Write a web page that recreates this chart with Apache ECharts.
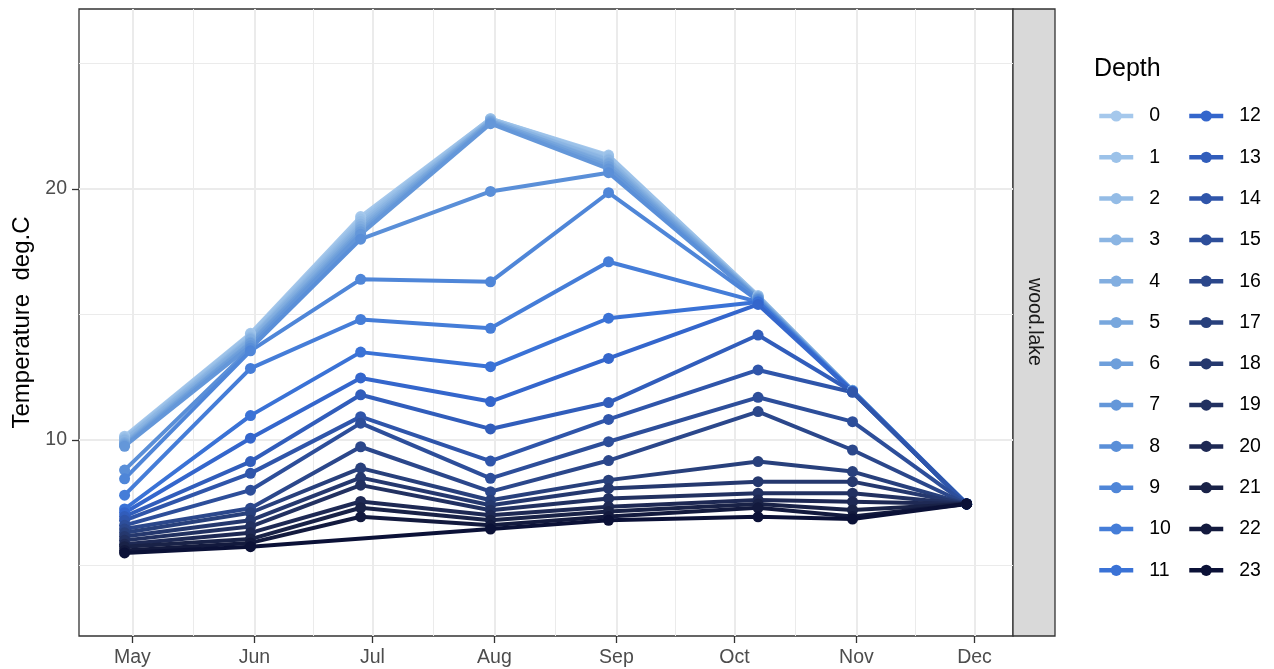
<!DOCTYPE html>
<html>
<head>
<meta charset="utf-8">
<title>wood.lake temperature profile</title>
<script src="https://cdn.jsdelivr.net/npm/echarts@6/dist/echarts.min.js"></script>
<style>
  html, body { margin: 0; padding: 0; background: #fff; }
  #chart { width: 1274px; height: 669px; }
</style>
</head>
<body>
<div id="chart"></div>
<script>
// sampling dates (one profile per date)
var sampleDates = ['2021-04-29', '2021-05-31', '2021-06-28', '2021-07-31', '2021-08-30', '2021-10-07', '2021-10-31', '2021-11-29']
var depths = ['0', '1', '2', '3', '4', '5', '6', '7', '8', '9', '10', '11',
  '12', '13', '14', '15', '16', '17', '18', '19', '20', '21', '22', '23']

// temperature (deg.C) for depth 0..23 on each date
var tMay = [10.15, 10.1, 10.05, 10.0, 9.9, 9.85, 9.8, 9.75, 8.8, 8.45, 7.8, 7.25, 7.1, 6.95, 6.8, 6.6, 6.45, 6.3, 6.15, 6.0, 5.85, 5.75, 5.6, 5.5]
var tJun = [14.25, 14.2, 14.1, 14.05, 14.0, 13.9, 13.85, 13.75, 13.65, 13.55, 12.85, 10.97, 10.07, 9.14, 8.67, 8.0, 7.28, 7.1, 6.8, 6.55, 6.3, 6.05, 5.9, 5.75]
var tJul = [18.9, 18.8, 18.7, 18.6, 18.5, 18.4, 18.3, 18.2, 18.0, 16.4, 14.8, 13.5, 12.47, 11.8, 10.93, 10.67, 9.73, 8.88, 8.5, 8.2, 7.55, 7.3, 6.94, null]
var tAug = [22.8, 22.8, 22.75, 22.75, 22.7, 22.7, 22.65, 22.6, 19.9, 16.3, 14.45, 12.92, 11.53, 10.44, 9.16, 8.47, 7.94, 7.6, 7.4, 7.2, 7.0, 6.8, 6.6, 6.45]
var tSep = [21.35, 21.3, 21.2, 21.15, 21.05, 21.0, 20.9, 20.8, 20.65, 19.85, 17.1, 14.85, 13.25, 11.49, 10.82, 9.93, 9.18, 8.4, 8.07, 7.67, 7.34, 7.15, 6.95, 6.8]
var tOct = [15.75, 15.75, 15.7, 15.7, 15.7, 15.65, 15.65, 15.6, 15.6, 15.55, 15.5, 15.5, 15.4, 14.18, 12.79, 11.7, 11.13, 9.14, 8.34, 7.88, 7.61, 7.45, 7.3, 6.94]
var tNov = [11.98, 11.98, 11.97, 11.97, 11.96, 11.96, 11.95, 11.95, 11.95, 11.94, 11.94, 11.93, 11.93, 11.92, 11.9, 10.73, 9.6, 8.74, 8.34, 7.88, 7.54, 7.21, 6.95, 6.85]
var tDec = [7.45, 7.45, 7.45, 7.45, 7.45, 7.45, 7.45, 7.45, 7.45, 7.45, 7.45, 7.45, 7.45, 7.45, 7.45, 7.45, 7.45, 7.45, 7.45, 7.45, 7.45, 7.45, 7.45, 7.45]

// axis breaks
var monthTicks = ['2021-05-01', '2021-06-01', '2021-07-01', '2021-08-01', '2021-09-01', '2021-10-01', '2021-11-01', '2021-12-01']
var monthNames = ['Jan', 'Feb', 'Mar', 'Apr', 'May', 'Jun', 'Jul', 'Aug', 'Sep', 'Oct', 'Nov', 'Dec']
var yMajor = [10, 20]
var yMinor = [5, 15, 25]

var palette = ['#a5c8ec', '#9cc2e9', '#94bce6', '#8bb5e3', '#82aee0', '#78a7dd', '#6e9fdb', '#6497d9',
  '#5a8fd8', '#4f86d8', '#457dd8', '#3a72d6', '#3466cc', '#315dbb', '#2f55aa', '#2d4e9a',
  '#2b478b', '#28407c', '#25386e', '#223161', '#1e2954', '#192247', '#131a3e', '#0b1137']

var FONT = '"Liberation Sans", Arial, Helvetica, sans-serif'

function toTime (s) {
  var p = s.split('-')
  return new Date(+p[0], +p[1] - 1, +p[2]).getTime()
}

var dateVals = sampleDates.map(toTime)
var tickVals = monthTicks.map(toTime)
var columns = [tMay, tJun, tJul, tAug, tSep, tOct, tNov, tDec]

// gridlines (ggplot style: major at breaks, minor halfway between)
var gridLines = []
tickVals.forEach(function (t) {
  gridLines.push({ xAxis: t, lineStyle: { width: 2 } })
})
for (var k = 0; k < tickVals.length - 1; k++) {
  gridLines.push({ xAxis: (tickVals[k] + tickVals[k + 1]) / 2, lineStyle: { width: 1 } })
}
yMajor.forEach(function (v) { gridLines.push({ yAxis: v, lineStyle: { width: 2 } }) })
yMinor.forEach(function (v) { gridLines.push({ yAxis: v, lineStyle: { width: 1 } }) })

var series = [{
  name: 'grid',
  type: 'line',
  data: [],
  silent: true,
  markLine: {
    silent: true,
    z: 1,
    symbol: ['none', 'none'],
    label: { show: false },
    lineStyle: { color: '#ebebeb', type: 'solid' },
    emphasis: { disabled: true },
    animation: false,
    data: gridLines
  }
}]

for (var i = 0; i < depths.length; i++) {
  var pts = []
  for (var j = 0; j < dateVals.length; j++) {
    pts.push([dateVals[j], columns[j][i]])
  }
  series.push({
    name: depths[i],
    type: 'line',
    data: pts,
    connectNulls: true,
    symbol: 'circle',
    symbolSize: 11,
    showAllSymbol: true,
    z: 2,
    color: palette[i],
    lineStyle: { width: 4, color: palette[i] },
    itemStyle: { color: palette[i] },
    emphasis: { disabled: true },
    animation: false
  })
}

var legendCommon = {
  orient: 'vertical',
  itemWidth: 34,
  itemHeight: 14,
  itemGap: 21.3,
  selectedMode: false,
  lineStyle: { width: 4.5 },
  textStyle: { fontSize: 19.5, color: '#000', fontFamily: FONT, lineHeight: 14, padding: [0, 0, 0, 11] }
}

var chart = echarts.init(document.getElementById('chart'))
chart.setOption({
  animation: false,
  textStyle: { fontFamily: FONT },
  title: {
    text: 'Depth',
    left: 1094,
    top: 57,
    padding: 0,
    textStyle: { fontSize: 25, fontWeight: 'normal', color: '#000', fontFamily: FONT }
  },
  legend: [
    Object.assign({}, legendCommon, { data: depths.slice(0, 12), left: 1092, top: 101 }),
    Object.assign({}, legendCommon, { data: depths.slice(12), left: 1182, top: 101 })
  ],
  grid: {
    left: 79,
    right: 261,
    top: 9,
    bottom: 33,
    show: true,
    borderColor: '#333333',
    borderWidth: 1.3,
    backgroundColor: '#fff',
    containLabel: false
  },
  xAxis: {
    type: 'value',
    min: new Date(2021, 3, 17, 10).getTime(),
    max: new Date(2021, 11, 10, 19).getTime(),
    axisLine: { show: false },
    splitLine: { show: false },
    axisTick: { show: true, length: 7, lineStyle: { color: '#333', width: 1.3 }, customValues: tickVals },
    axisLabel: {
      customValues: tickVals,
      color: '#4d4d4d',
      fontSize: 19.5,
      margin: 12,
      hideOverlap: false,
      formatter: function (v) { return monthNames[new Date(v).getMonth()] }
    }
  },
  yAxis: {
    type: 'value',
    min: 2.19,
    max: 27.17,
    name: 'Temperature  deg.C',
    nameLocation: 'middle',
    nameRotate: 90,
    nameGap: 44,
    nameTextStyle: { fontSize: 24, color: '#000', fontFamily: FONT },
    axisLine: { show: false },
    splitLine: { show: false },
    axisTick: { show: true, length: 7, lineStyle: { color: '#333', width: 1.3 }, customValues: yMajor },
    axisLabel: { customValues: yMajor, color: '#4d4d4d', fontSize: 19.5, margin: 12 }
  },
  graphic: [
    {
      type: 'rect',
      shape: { x: 1013, y: 9, width: 42, height: 627 },
      style: { fill: '#d9d9d9', stroke: '#333333', lineWidth: 1.3 }
    },
    {
      type: 'text',
      x: 1034,
      y: 322,
      rotation: -Math.PI / 2,
      style: { text: 'wood.lake', fontSize: 19.5, fill: '#1a1a1a', align: 'center', verticalAlign: 'middle', fontFamily: FONT }
    }
  ],
  series: series
})
</script>
</body>
</html>
